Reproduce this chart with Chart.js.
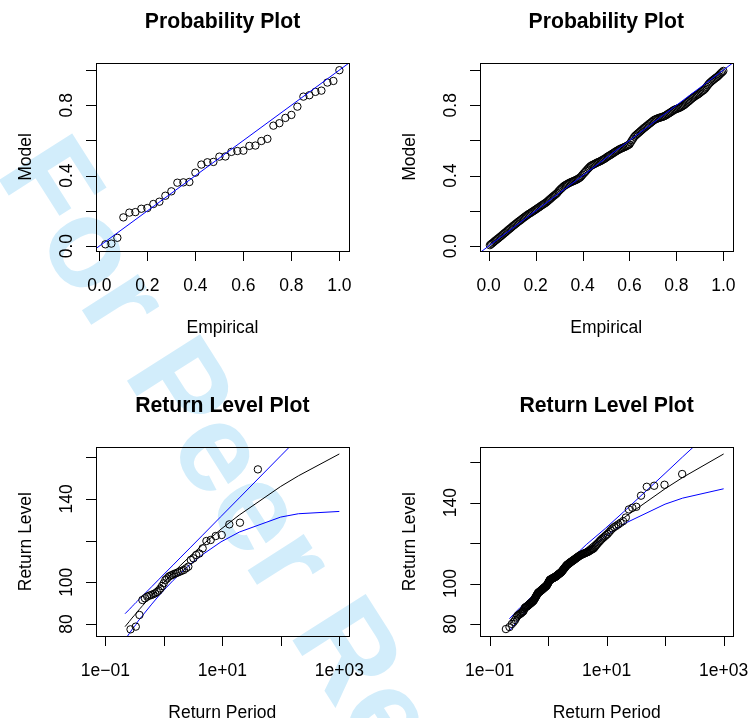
<!DOCTYPE html>
<html>
<head>
<meta charset="utf-8">
<script src="https://cdn.jsdelivr.net/npm/chart.js@4.4.1/dist/chart.umd.min.js"></script>
<style>
body { margin: 0; background: #fff; }
#pagina { position: relative; width: 749px; height: 718px; overflow: hidden; background: #fff; }
#marca {
    position: absolute; left: 84px; top: 116px;
    font: bold 126px "Liberation Sans", Arial, sans-serif; line-height: 1;
    color: #d2edfb; white-space: nowrap;
    transform-origin: 0 0; transform: rotate(57.5deg);
}
canvas { position: absolute; }
</style>
</head>
<body>
<div id="pagina">
    <div id="marca">For Peer Review</div>
    <canvas id="pp1" width="375" height="359" style="left:0px;top:0px"></canvas>
    <canvas id="pp2" width="374" height="359" style="left:375px;top:0px"></canvas>
    <canvas id="rl1" width="375" height="359" style="left:0px;top:359px"></canvas>
    <canvas id="rl2" width="374" height="359" style="left:375px;top:359px"></canvas>
</div>
<script>
// ticks
var ppTicks = [0, 0.2, 0.4, 0.6, 0.8, 1.0];
var ppXLabels = ['0.0', '0.2', '0.4', '0.6', '0.8', '1.0'];
var ppYLabels = ['0.0', '', '0.4', '', '0.8', ''];
var rlXTicks = [0.1, 1, 10, 100, 1000];
var rlXLabels = ['1e\u221201', '', '1e+01', '', '1e+03'];
var rlYTicks = [80, 100, 120, 140, 160];
var rlYLabels = ['80', '100', '', '140', ''];

// abline y = x
var diagonal = [-0.1, 1.1];

// probability plot, small sample (model values, sorted)
var modelo1 = [0.010, 0.014, 0.047, 0.163, 0.190, 0.193, 0.212, 0.216, 0.239, 0.252,
    0.286, 0.311, 0.360, 0.362, 0.364, 0.417, 0.463, 0.476, 0.478, 0.508,
    0.509, 0.535, 0.540, 0.542, 0.569, 0.571, 0.597, 0.609, 0.684, 0.698,
    0.728, 0.745, 0.792, 0.849, 0.857, 0.876, 0.883, 0.929, 0.938, 0.999];

// probability plot, large sample
var modelo2 = [0.005, 0.011, 0.016, 0.022, 0.028, 0.033, 0.039, 0.044, 0.050, 0.055,
    0.061, 0.067, 0.073, 0.078, 0.084, 0.090, 0.096, 0.101, 0.107, 0.113,
    0.118, 0.124, 0.129, 0.135, 0.140, 0.145, 0.150, 0.156, 0.161, 0.166,
    0.171, 0.176, 0.181, 0.185, 0.189, 0.194, 0.198, 0.203, 0.207, 0.212,
    0.217, 0.221, 0.226, 0.231, 0.235, 0.240, 0.244, 0.249, 0.255, 0.261,
    0.267, 0.273, 0.279, 0.285, 0.290, 0.296, 0.302, 0.311, 0.318, 0.325,
    0.331, 0.338, 0.343, 0.347, 0.351, 0.355, 0.359, 0.362, 0.365, 0.368,
    0.371, 0.374, 0.377, 0.381, 0.385, 0.390, 0.397, 0.405, 0.413, 0.420,
    0.428, 0.436, 0.443, 0.450, 0.456, 0.460, 0.463, 0.467, 0.470, 0.474,
    0.477, 0.480, 0.483, 0.487, 0.491, 0.495, 0.499, 0.504, 0.509, 0.513,
    0.517, 0.521, 0.526, 0.530, 0.535, 0.539, 0.543, 0.547, 0.551, 0.554,
    0.557, 0.560, 0.563, 0.566, 0.570, 0.574, 0.578, 0.589, 0.600, 0.610,
    0.621, 0.628, 0.634, 0.640, 0.646, 0.652, 0.658, 0.664, 0.670, 0.675,
    0.681, 0.686, 0.692, 0.697, 0.703, 0.708, 0.714, 0.718, 0.721, 0.724,
    0.727, 0.729, 0.731, 0.733, 0.736, 0.738, 0.742, 0.746, 0.751, 0.755,
    0.759, 0.764, 0.768, 0.773, 0.776, 0.779, 0.781, 0.784, 0.787, 0.791,
    0.795, 0.799, 0.804, 0.810, 0.816, 0.821, 0.827, 0.833, 0.839, 0.844,
    0.849, 0.854, 0.858, 0.862, 0.867, 0.873, 0.878, 0.883, 0.888, 0.895,
    0.904, 0.913, 0.922, 0.929, 0.935, 0.941, 0.946, 0.952, 0.957, 0.962,
    0.968, 0.975, 0.982, 0.988, 0.995];

// return level plot, observed (sorted data)
var nivel1 = [77.4, 78.7, 84.3, 91.5, 92.3, 93.1, 93.6, 93.9, 94.3, 94.7,
    95.3, 96.0, 97.0, 98.2, 99.5, 101.1, 101.8, 102.7, 103.2, 103.5,
    104.0, 104.3, 104.7, 105.1, 105.5, 105.9, 106.7, 107.5, 110.7, 111.5,
    113.1, 113.8, 116.3, 119.8, 120.3, 122.2, 122.7, 127.8, 128.6, 154.2];

var nivel2 = [77.5, 78.5, 80.0, 81.0, 82.0, 83.2, 84.1, 84.5, 84.8, 85.1,
    85.4, 85.8, 86.1, 86.4, 87.2, 88.0, 88.2, 88.4, 88.6, 88.8,
    89.0, 89.2, 89.5, 89.7, 89.9, 90.1, 90.3, 90.5, 90.7, 90.9,
    91.1, 91.3, 91.5, 91.8, 92.2, 92.5, 92.9, 93.2, 93.6, 93.9,
    94.3, 94.6, 95.0, 95.3, 95.5, 95.6, 95.8, 95.9, 96.1, 96.2,
    96.4, 96.5, 96.7, 96.8, 97.0, 97.1, 97.3, 97.5, 97.6, 97.8,
    97.9, 98.1, 98.2, 98.4, 98.5, 98.7, 98.8, 99.0, 99.3, 99.6,
    99.9, 100.2, 100.6, 100.9, 101.2, 101.5, 101.8, 101.9, 102.0, 102.1,
    102.2, 102.3, 102.4, 102.5, 102.6, 102.7, 102.8, 102.9, 103.0, 103.1,
    103.2, 103.3, 103.4, 103.5, 103.7, 103.8, 104.0, 104.1, 104.3, 104.4,
    104.6, 104.7, 104.9, 105.0, 105.2, 105.3, 105.5, 105.6, 105.9, 106.1,
    106.4, 106.6, 106.9, 107.2, 107.4, 107.7, 107.9, 108.2, 108.5, 108.7,
    109.0, 109.2, 109.4, 109.5, 109.7, 109.9, 110.1, 110.2, 110.4, 110.6,
    110.8, 110.9, 111.1, 111.3, 111.5, 111.6, 111.8, 112.0, 112.2, 112.4,
    112.6, 112.8, 113.0, 113.2, 113.4, 113.6, 113.8, 114.0, 114.1, 114.3,
    114.4, 114.6, 114.7, 114.9, 115.0, 115.2, 115.3, 115.5, 115.6, 115.9,
    116.1, 116.4, 116.6, 116.9, 117.1, 117.4, 118.0, 118.6, 119.2, 119.8,
    120.4, 121.0, 121.6, 122.2, 122.7, 123.3, 123.9, 124.5, 125.4, 126.3,
    127.2, 127.9, 128.5, 129.2, 130.0, 130.8, 132.6, 136.6, 137.4, 137.9,
    143.4, 147.8, 148.3, 148.8, 154.1];

// fitted curve and confidence band
var periodos = [0.2172, 0.2556, 0.2852, 0.3107, 0.3338, 0.3554, 0.3761, 0.3959, 0.4153, 0.4343,
    0.6213, 0.8306, 1.0914, 1.4427, 1.9576, 2.8037, 4.4814, 9.4912, 19.496, 99.499, 199.5, 999.5];
var ajuste1 = [78.7, 81.1, 82.8, 84.0, 85.0, 86.0, 86.8, 87.5, 88.2, 88.8,
    93.7, 97.6, 101.1, 104.6, 108.3, 112.5, 117.7, 125.5, 132.3, 146.0, 151.1, 161.6];
var superior1 = [84.9, 86.9, 88.3, 89.4, 90.3, 91.0, 91.7, 92.4, 93.0, 93.5,
    97.9, 101.5, 104.9, 108.3, 112.1, 116.5, 122.3, 131.6, 140.5, 160.7, 169.3, 189.2];
var inferior1 = [72.5, 75.3, 77.3, 78.6, 79.7, 81.0, 81.9, 82.6, 83.4, 84.1,
    89.5, 93.7, 97.3, 100.9, 104.5, 108.5, 113.1, 119.4, 124.1, 131.3, 132.9, 134.0];
var ajuste2 = [79.6, 81.9, 83.5, 84.7, 85.7, 86.5, 87.3, 88.0, 88.6, 89.2,
    94.0, 97.7, 101.1, 104.5, 108.1, 112.2, 117.5, 125.3, 132.4, 146.8, 152.4, 164.0];
var superior2 = [82.6, 84.7, 86.2, 87.3, 88.2, 88.9, 89.6, 90.2, 90.8, 91.3,
    95.6, 99.0, 102.3, 105.6, 109.2, 113.6, 119.2, 127.2, 135.4, 154.4, 162.6, 181.2];
var inferior2 = [76.6, 79.1, 80.8, 82.1, 83.2, 84.1, 85.0, 85.8, 86.4, 87.1,
    92.4, 96.4, 99.9, 103.4, 107.0, 110.8, 115.8, 123.4, 129.4, 139.2, 142.2, 146.8];

// plotting positions from rank
function empirico(n) {
    var r = [];
    for (var i = 1; i <= n; i++) r.push(i / n);
    return r;
}
function periodoRetorno(n) {
    var r = [];
    for (var i = 1; i <= n; i++) r.push(-1 / Math.log(i / (n + 1)));
    return r;
}
function pontos(xs, ys) {
    return xs.map(function (x, i) { return { x: x, y: ys[i] }; });
}

var FONTE = '"Liberation Sans", Arial, Helvetica, sans-serif';

function circulos(dados) {
    return {
        data: dados, showLine: false,
        pointRadius: 3.7, pointHoverRadius: 3.7, pointBorderWidth: 1,
        pointBorderColor: '#000000', pointBackgroundColor: 'rgba(0,0,0,0)'
    };
}
function linha(dados, cor) {
    return {
        data: dados, showLine: true, borderColor: cor, borderWidth: 1,
        pointRadius: 0, pointHoverRadius: 0, fill: false, tension: 0
    };
}

// R-like box, ticks and labels
var eixosR = {
    id: 'eixosR',
    afterDraw: function (chart, args, o) {
        var ctx = chart.ctx;
        var a = chart.chartArea;
        var sx = chart.scales.x, sy = chart.scales.y;
        ctx.save();
        ctx.strokeStyle = '#000';
        ctx.fillStyle = '#000';
        ctx.lineWidth = 1;
        ctx.strokeRect(Math.round(a.left) + 0.5, Math.round(a.top) + 0.5,
            Math.round(a.right - a.left), Math.round(a.bottom - a.top));

        ctx.beginPath();
        o.xTicks.forEach(function (v) {
            var p = Math.round(sx.getPixelForValue(v)) + 0.5;
            ctx.moveTo(p, a.bottom);
            ctx.lineTo(p, a.bottom + 10);
        });
        o.yTicks.forEach(function (v) {
            var p = Math.round(sy.getPixelForValue(v)) + 0.5;
            ctx.moveTo(a.left, p);
            ctx.lineTo(a.left - 10, p);
        });
        ctx.stroke();

        ctx.font = '17.5px ' + FONTE;
        ctx.textAlign = 'center';
        ctx.textBaseline = 'alphabetic';
        o.xTicks.forEach(function (v, i) {
            if (o.xLabels[i]) ctx.fillText(o.xLabels[i], sx.getPixelForValue(v), a.bottom + 40);
        });
        o.yTicks.forEach(function (v, i) {
            if (!o.yLabels[i]) return;
            ctx.save();
            ctx.translate(a.left - 24, sy.getPixelForValue(v));
            ctx.rotate(-Math.PI / 2);
            ctx.fillText(o.yLabels[i], 0, 0);
            ctx.restore();
        });

        var cx = (a.left + a.right) / 2, cy = (a.top + a.bottom) / 2;
        ctx.fillText(o.xTitle, cx, a.bottom + 82);
        ctx.save();
        ctx.translate(a.left - 65, cy);
        ctx.rotate(-Math.PI / 2);
        ctx.fillText(o.yTitle, 0, 0);
        ctx.restore();

        ctx.font = 'bold 21.2px ' + FONTE;
        ctx.fillText(o.title, cx, a.top - 35.5);
        ctx.restore();
    }
};

function criarGrafico(id, datasets, escalas, padding, eixos) {
    return new Chart(document.getElementById(id), {
        type: 'scatter',
        data: { datasets: datasets },
        options: {
            responsive: false,
            animation: false,
            events: [],
            layout: { padding: padding },
            scales: {
                x: Object.assign({ display: false }, escalas.x),
                y: Object.assign({ display: false }, escalas.y)
            },
            plugins: {
                legend: { display: false },
                tooltip: { enabled: false },
                eixosR: eixos
            }
        },
        plugins: [eixosR]
    });
}

var tituloPP = { title: 'Probability Plot', xTitle: 'Empirical', yTitle: 'Model',
    xTicks: ppTicks, xLabels: ppXLabels, yTicks: ppTicks, yLabels: ppYLabels };
var tituloRL = { title: 'Return Level Plot', xTitle: 'Return Period', yTitle: 'Return Level',
    xTicks: rlXTicks, xLabels: rlXLabels, yTicks: rlYTicks, yLabels: rlYLabels };

// top left
criarGrafico('pp1', [
    linha(pontos(diagonal, diagonal), '#0000ff'),
    circulos(pontos(empirico(modelo1.length), modelo1))
], {
    x: { type: 'linear', min: -0.014, max: 1.040 },
    y: { type: 'linear', min: -0.028, max: 1.040 }
}, { left: 96, right: 26, top: 63, bottom: 108 }, tituloPP);

// top right
criarGrafico('pp2', [
    linha(pontos(diagonal, diagonal), '#0000ff'),
    circulos(pontos(empirico(modelo2.length), modelo2))
], {
    x: { type: 'linear', min: -0.037, max: 1.039 },
    y: { type: 'linear', min: -0.028, max: 1.040 }
}, { left: 105, right: 16.5, top: 63, bottom: 108 }, tituloPP);

// bottom left
criarGrafico('rl1', [
    circulos(pontos(periodoRetorno(nivel1.length), nivel1)),
    linha(pontos(periodos, superior1), '#0000ff'),
    linha(pontos(periodos, inferior1), '#0000ff'),
    linha(pontos(periodos, ajuste1), '#000000')
], {
    x: { type: 'logarithmic', min: Math.pow(10, -1.16), max: Math.pow(10, 3.16) },
    y: { type: 'linear', min: 74.2, max: 164.8 }
}, { left: 96, right: 26.3, top: 88.3, bottom: 82 }, tituloRL);

// bottom right
criarGrafico('rl2', [
    circulos(pontos(periodoRetorno(nivel2.length), nivel2)),
    linha(pontos(periodos, superior2), '#0000ff'),
    linha(pontos(periodos, inferior2), '#0000ff'),
    linha(pontos(periodos, ajuste2), '#000000')
], {
    x: { type: 'logarithmic', min: Math.pow(10, -1.16), max: Math.pow(10, 3.16) },
    y: { type: 'linear', min: 74.07, max: 167.3 }
}, { left: 105.3, right: 16, top: 88.3, bottom: 82 }, tituloRL);
</script>
</body>
</html>
